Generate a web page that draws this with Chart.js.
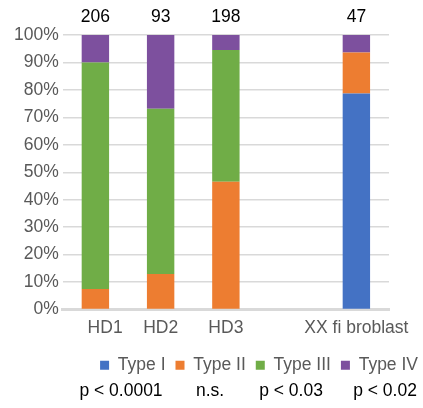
<!DOCTYPE html>
<html>
<head>
<meta charset="utf-8">
<script src="https://cdn.jsdelivr.net/npm/chart.js@4"></script>
<style>
  html, body { margin: 0; padding: 0; background: #fff; }
  #wrap { width: 423px; height: 408px; }
</style>
</head>
<body>
<div id="wrap"><canvas id="chart" width="423" height="408"></canvas></div>
<script>
const categories = ["    HD1", "HD2", "HD3", "", "XX fi broblast"];
const cellCounts = [206, 93, 198, null, 47];
const typeI   = [0, 0, 0, null, 78.7];
const typeII  = [7.5, 12.9, 46.5, null, 14.9];
const typeIII = [82.5, 60.2, 48.0, null, 0];
const typeIV  = [10.0, 26.9, 5.5, null, 6.4];
const pValues = ["p < 0.0001", "n.s.", "p < 0.03", "p < 0.02"];
const pCenters = [121, 210, 291, 385];

const FONT = "'Liberation Sans', Arial, sans-serif";
const FS = 17.5;

const countsPlugin = {
  id: "counts",
  afterDatasetsDraw(chart) {
    const ctx = chart.ctx;
    const xs = chart.scales.x;
    ctx.save();
    ctx.fillStyle = "#000";
    ctx.font = FS + "px " + FONT;
    ctx.textAlign = "center";
    ctx.textBaseline = "middle";
    cellCounts.forEach((n, i) => {
      if (n == null) return;
      ctx.fillText(String(n), xs.getPixelForValue(i), chart.chartArea.top - 18);
    });
    // p-values row
    pValues.forEach((t, i) => {
      ctx.fillText(t, pCenters[i], 391);
    });
    ctx.restore();
  }
};

new Chart(document.getElementById("chart"), {
  type: "bar",
  data: {
    labels: categories,
    datasets: [
      { label: "Type I", data: typeI, backgroundColor: "#4472C4" },
      { label: "Type II", data: typeII, backgroundColor: "#ED7D31" },
      { label: "Type III", data: typeIII, backgroundColor: "#70AD47" },
      { label: "Type IV", data: typeIV, backgroundColor: "#7D509E" }
    ]
  },
  options: {
    responsive: false,
    animation: false,
    layout: { padding: { top: 35, right: -5, left: 10, bottom: 24 } },
    datasets: {
      bar: { categoryPercentage: 1, barPercentage: 0.42, borderWidth: 0 }
    },
    scales: {
      x: {
        stacked: true,
        afterFit: s => { s.paddingRight = 34; },
        grid: { display: false, drawTicks: false },
        border: { color: "#D9D9D9", width: 3 },
        ticks: { color: "#595959", font: { size: FS, family: FONT }, padding: 8, maxRotation: 0, autoSkip: false }
      },
      y: {
        stacked: true,
        min: 0,
        max: 100,
        grid: { color: "#D9D9D9", lineWidth: 1.5, drawTicks: false },
        border: { display: false },
        ticks: {
          stepSize: 10,
          color: "#595959",
          font: { size: FS, family: FONT },
          padding: 4,
          callback: v => v + "%"
        }
      }
    },
    plugins: {
      legend: {
        position: "bottom",
        align: "end",
        labels: {
          color: "#595959",
          font: { size: FS, family: FONT },
          boxWidth: 9,
          boxHeight: 9,
          padding: 10
        }
      },
      tooltip: { enabled: false }
    }
  },
  plugins: [countsPlugin]
});
</script>
</body>
</html>
